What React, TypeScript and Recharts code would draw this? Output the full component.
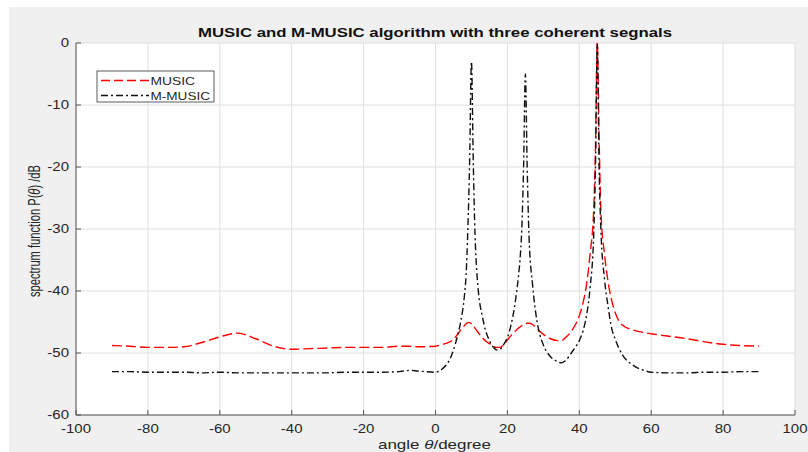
import { CartesianGrid, Line, LineChart, XAxis, YAxis } from "recharts";

const angles = [
  -90, -85, -80, -75, -70, -65, -60, -55, -50, -45, -40, -35, -30, -25, -20, -15, -10, -7, -5, 0,
  2, 4, 5, 6, 7, 8, 8.5, 9, 9.5, 10, 10.5, 11, 11.5, 12, 13, 14, 15, 16, 17, 18,
  19, 20, 21, 22, 23, 23.5, 24, 24.5, 25, 25.5, 26, 27, 28, 29, 30, 32, 34, 35, 36, 38,
  40, 41, 42, 43, 44, 44.5, 45, 45.5, 46, 47, 48, 49, 50, 52, 55, 58, 60, 65, 70, 75,
  80, 85, 90,
];

const musicDb = [
  -48.8, -48.9, -49.1, -49.1, -49.0, -48.3, -47.4, -46.8, -47.7, -48.9, -49.4, -49.3, -49.2, -49.1, -49.1, -49.1, -48.9, -48.9, -49.0, -48.9,
  -48.6, -48.2, -47.8, -47.1, -46.3, -45.6, -45.3, -45.1, -45.1, -45.3, -45.6, -46.0, -46.4, -46.8, -47.5, -48.1, -48.5, -48.9, -49.1, -49.1,
  -48.6, -47.9, -47.2, -46.6, -46.0, -45.8, -45.6, -45.4, -45.3, -45.2, -45.2, -45.4, -45.9, -46.5, -47.0, -47.7, -48.0, -48.0, -47.6, -46.3,
  -44.0, -42.0, -39.0, -34.0, -27.0, -17.0, 0, -15.0, -27.0, -34.0, -38.5, -41.5, -43.5, -45.5, -46.3, -46.7, -46.9, -47.3, -47.7, -48.2,
  -48.6, -48.8, -48.9,
];

const mMusicDb = [
  -53.0, -53.0, -53.1, -53.1, -53.1, -53.2, -53.1, -53.2, -53.2, -53.2, -53.2, -53.2, -53.2, -53.1, -53.1, -53.1, -53.0, -52.8, -52.9, -53.1,
  -52.5, -51.0, -49.5, -47.5, -45.0, -41.0, -37.5, -30.0, -19.0, -3.0, -19.0, -31.0, -37.0, -40.5, -44.0, -46.5, -48.0, -49.0, -49.5, -49.4,
  -48.6, -47.5, -45.5, -42.5, -38.0, -35.0, -30.0, -20.0, -5.0, -20.0, -31.0, -39.0, -44.0, -47.0, -48.7, -50.6, -51.4, -51.6, -51.3, -49.8,
  -48.0, -46.5, -44.0, -39.5, -31.0, -20.0, 0, -20.0, -30.0, -38.0, -42.5, -46.0, -47.8, -50.3, -52.0, -52.8, -53.1, -53.2, -53.2, -53.1,
  -53.1, -53.0, -53.0,
];

const xTicks = [-100, -80, -60, -40, -20, 0, 20, 40, 60, 80, 100];
const yTicks = [-60, -50, -40, -30, -20, -10, 0];

const data = angles.map((angle, i) => ({
  angle,
  music: musicDb[i],
  mmusic: mMusicDb[i],
}));

const FONT = "'Liberation Sans', Arial, Helvetica, sans-serif";
const TEXT = "#262626";
const AXIS = "#555555";

function XTick(props: any) {
  const { x, y, payload } = props;
  return (
    <text
      transform={`translate(${x},${y}) scale(1.25,1)`}
      textAnchor="middle"
      dy="0.71em"
      fontSize={12}
      fontFamily={FONT}
      fill={TEXT}
    >
      {payload.value}
    </text>
  );
}

function YTick(props: any) {
  const { x, y, payload } = props;
  return (
    <text
      transform={`translate(${x},${y}) scale(1.25,1)`}
      textAnchor="end"
      dy="0.36em"
      fontSize={12}
      fontFamily={FONT}
      fill={TEXT}
    >
      {payload.value}
    </text>
  );
}

export default function App() {
  return (
    <div style={{ position: "absolute", left: 0, top: 0, width: 808, height: 452, background: "#fff" }}>
      <div style={{ position: "absolute", left: 9, top: 7, right: 0, bottom: 0, background: "#f0f0f0" }} />
      <div style={{ position: "absolute", left: 0, top: 0 }}>
        <LineChart width={808} height={452} data={data} margin={{ top: 43, right: 13, bottom: 0, left: 0 }}>
          <CartesianGrid xAxisId="b" yAxisId="l" stroke="#dedede" fill="#ffffff" />
          <XAxis
            xAxisId="b"
            dataKey="angle"
            type="number"
            domain={[-100, 100]}
            ticks={xTicks}
            allowDataOverflow
            height={37}
            tickSize={-5}
            tickMargin={14}
            stroke={AXIS}
            tick={XTick}
            interval={0}
          />
          <XAxis
            xAxisId="t"
            orientation="top"
            dataKey="angle"
            type="number"
            domain={[-100, 100]}
            ticks={xTicks}
            allowDataOverflow
            height={0}
            tickSize={-5}
            tick={false}
            stroke={AXIS}
          />
          <YAxis
            yAxisId="l"
            type="number"
            domain={[-60, 0]}
            ticks={yTicks}
            allowDataOverflow
            width={76}
            tickSize={-5}
            tickMargin={12}
            stroke={AXIS}
            tick={YTick}
            interval={0}
          />
          <YAxis
            yAxisId="r"
            orientation="right"
            type="number"
            domain={[-60, 0]}
            ticks={yTicks}
            allowDataOverflow
            width={0}
            tickSize={-5}
            tick={false}
            stroke={AXIS}
          />
          <Line
            xAxisId="b"
            yAxisId="l"
            type="monotone"
            dataKey="music"
            name="MUSIC"
            stroke="#ff0000"
            strokeWidth={1.4}
            strokeDasharray="10 4"
            dot={false}
            isAnimationActive={false}
          />
          <Line
            xAxisId="b"
            yAxisId="l"
            type="monotone"
            dataKey="mmusic"
            name="M-MUSIC"
            stroke="#111111"
            strokeWidth={1.4}
            strokeDasharray="7 3 2 3"
            dot={false}
            isAnimationActive={false}
          />
        </LineChart>
      </div>
      <svg
        width={808}
        height={452}
        style={{ position: "absolute", left: 0, top: 0, pointerEvents: "none" }}
        fontFamily={FONT}
      >
        <text x={198} y={36.5} fontSize={12.5} fontWeight="bold" fill="#111" textLength={474} lengthAdjust="spacingAndGlyphs">
          MUSIC and M-MUSIC algorithm with three coherent segnals
        </text>
        <text x={378} y={449} fontSize={13} fill={TEXT} textLength={113} lengthAdjust="spacingAndGlyphs">
          angle <tspan fontStyle="italic">θ</tspan>/degree
        </text>
        <text
          transform="translate(40,231) rotate(-90) scale(1,1.45)"
          textAnchor="middle"
          fontSize={12}
          fill={TEXT}
          textLength={132}
          lengthAdjust="spacingAndGlyphs"
        >
          spectrum function P(<tspan fontStyle="italic">θ</tspan>) /dB
        </text>
        <rect x={97} y={71} width={117} height={31} fill="#fff" stroke="#333" strokeWidth={0.8} />
        <line x1={101} x2={149} y1={80.5} y2={80.5} stroke="#ff0000" strokeWidth={1.3} strokeDasharray="9 4" />
        <text x={150.5} y={84.5} fontSize={11} fill={TEXT} textLength={44.5} lengthAdjust="spacingAndGlyphs">
          MUSIC
        </text>
        <line x1={101} x2={149} y1={95.5} y2={95.5} stroke="#111" strokeWidth={1.3} strokeDasharray="7 3 2 3" />
        <text x={150.5} y={99.5} fontSize={11} fill={TEXT} textLength={59.5} lengthAdjust="spacingAndGlyphs">
          M-MUSIC
        </text>
      </svg>
    </div>
  );
}
